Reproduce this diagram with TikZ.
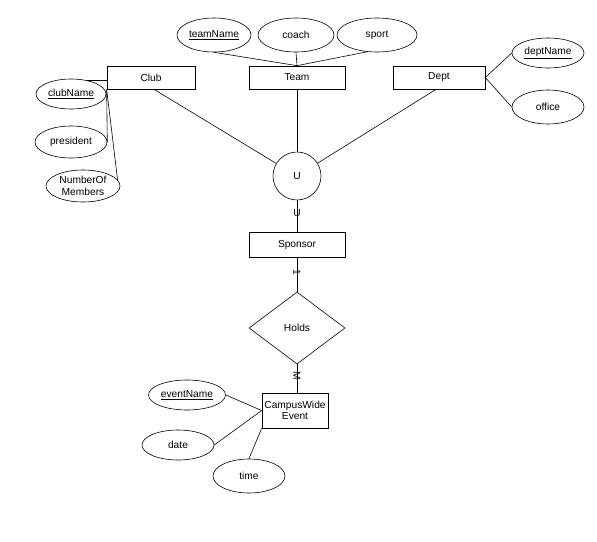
\documentclass[tikz,border=0pt]{standalone}
\usepackage{fontspec}
\setmainfont{Liberation Sans}
\usetikzlibrary{shapes.geometric}
\begin{document}
\begin{tikzpicture}[x=1pt,y=-1pt,
  every node/.style={font=\fontsize{10.2}{11.5}\selectfont, inner sep=0pt},
  ent/.style={draw, rectangle, line width=0.7pt},
  attr/.style={draw, ellipse, line width=0.6pt, minimum width=72pt, minimum height=32pt},
  conn/.style={draw, line width=0.6pt}]
\useasboundingbox (0,0) rectangle (597,541);
% entities
\node[ent, minimum width=88pt, minimum height=23pt] (club) at (151,77.5) {Club};
\node[ent, minimum width=96pt, minimum height=23pt] (team) at (297,77.5) {Team};
\node[ent, minimum width=92pt, minimum height=23pt] (dept) at (439,77.5) {Dept};
\node[ent, minimum width=96pt, minimum height=25pt] (sponsor) at (297,244.5) {Sponsor};
\node[ent, minimum width=66pt, minimum height=35pt, align=center] (cwe) at (295,410.5) {CampusWide\\Event};
% union circle and relationship
\node[draw, circle, line width=0.6pt, minimum size=48pt] (u) at (297,176) {U};
\node[draw, diamond, line width=0.6pt, aspect=1.333, minimum width=96pt, minimum height=72pt] (holds) at (297,328) {Holds};
% attributes
\node[attr, minimum width=70pt, minimum height=30pt] (clubname) at (71,94) {\underline{clubName}};
\node[attr] (president) at (71,142) {president};
\node[attr, align=center, minimum width=74pt] (number) at (83,186) {NumberOf\\Members};
\node[attr, minimum width=74pt, minimum height=34pt] (teamname) at (214,35) {\underline{teamName}};
\node[attr, minimum width=76pt, minimum height=34pt] (coach) at (296,35) {coach};
\node[attr, minimum width=80pt, minimum height=34pt] (sport) at (377,35) {sport};
\node[attr, minimum width=72pt, minimum height=30pt] (deptname) at (548,53) {\underline{deptName}};
\node[attr, minimum width=72pt, minimum height=34pt] (office) at (548,107) {office};
\node[attr, minimum width=77pt, minimum height=30pt] (eventname) at (187,395) {\underline{eventName}};
\node[attr, minimum width=72pt, minimum height=30pt] (date) at (178,445) {date};
\node[attr, minimum width=72pt, minimum height=34pt] (time) at (249,476) {time};
% connectors: attributes
\draw[conn] (clubname.40) -- (clubname.40 -| club.west);
\draw[conn] (club.south west) -- (president.east);
\draw[conn] (club.south west) -- (number.10);
\draw[conn] (teamname.south) -- (team.north);
\draw[conn] (coach.south) -- (team.north);
\draw[conn] (sport.240) -- (team.north);
\draw[conn] (dept.east) -- (deptname.west);
\draw[conn] (dept.east) -- (office.west);
\draw[conn] (eventname.east) -- (cwe.west);
\draw[conn] (date.east) -- (cwe.west);
\draw[conn] (time.north) -- (cwe.south west);
% connectors: hierarchy
\draw[conn] ([xshift=3pt]club.south) -- (u);
\draw[conn] (team.south) -- (u.north);
\draw[conn] ([xshift=-3pt]dept.south) -- (u);
\draw[conn] (u.south) -- (sponsor.north);
\draw[conn] (sponsor.south) -- (holds.north);
\draw[conn] (holds.south) -- (holds.south |- cwe.north);
% markers
\node (subs) at (297,213) {U};
\node[rotate=-90] (one) at (297,272) {1};
\node[rotate=-90] (many) at (297,376) {M};
\end{tikzpicture}
\end{document}
